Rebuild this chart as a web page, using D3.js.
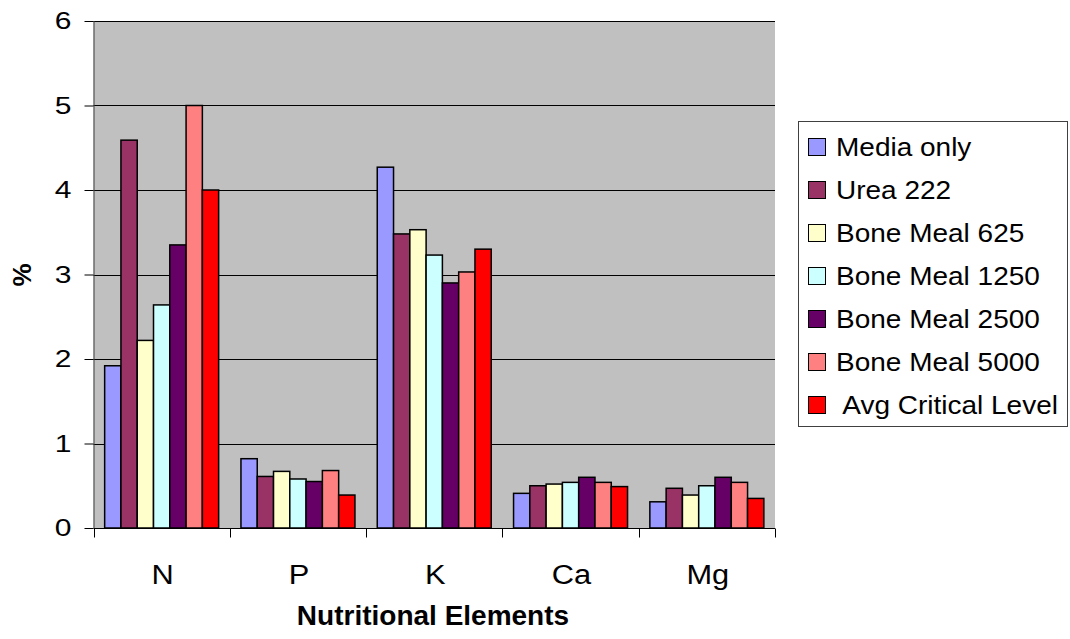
<!DOCTYPE html>
<html><head><meta charset="utf-8">
<script src="https://cdn.jsdelivr.net/npm/d3@7"></script>
<style>body{margin:0;background:#fff}svg{display:block}text{font-family:"Liberation Sans",Arial,sans-serif}</style>
</head><body><svg id="c" width="1070" height="639"></svg>
<script>
const categories = ["N","P","K","Ca","Mg"];
const seriesNames = ["Media only","Urea 222","Bone Meal 625","Bone Meal 1250","Bone Meal 2500","Bone Meal 5000"," Avg Critical Level"];
const mediaOnly   = [1.92,0.82,4.27,0.41,0.31];
const urea222     = [4.59,0.61,3.48,0.50,0.47];
const bm625       = [2.22,0.67,3.53,0.52,0.39];
const bm1250      = [2.64,0.58,3.23,0.54,0.50];
const bm2500      = [3.35,0.55,2.90,0.60,0.60];
const bm5000      = [5.00,0.68,3.03,0.54,0.54];
const avgCritical = [4.00,0.39,3.30,0.49,0.35];
const yTicks = [0,1,2,3,4,5,6];
const colors = ["#9999FF","#993366","#FFFFCC","#CCFFFF","#660066","#FF8080","#FF0000"];
const series = [mediaOnly,urea222,bm625,bm1250,bm2500,bm5000,avgCritical];

const svg = d3.select("#c");
const L=93.5, R=775, T=21, B=528;
const y = d3.scaleLinear().domain([0,6]).range([B,T]);
const x0 = d3.scaleBand().domain(categories).range([L,R]).paddingInner(0).paddingOuter(0);
const x1 = d3.scaleBand().domain(d3.range(series.length)).range([0,x0.bandwidth()]).paddingInner(0).paddingOuter(0.685);

svg.append("rect").attr("x",L).attr("y",T).attr("width",R-L).attr("height",B-T).attr("fill","#C0C0C0");
// gridlines
svg.append("g").selectAll("line").data(yTicks.filter(d=>d>0)).join("line")
  .attr("x1",L).attr("x2",R).attr("y1",d=>Math.round(y(d))+0.5).attr("y2",d=>Math.round(y(d))+0.5)
  .attr("stroke","#000").attr("stroke-width",1);

// bars
categories.forEach((c,ci)=>{
  series.forEach((s,si)=>{
    svg.append("rect").attr("x",x0(c)+x1(si)).attr("y",y(s[ci])).attr("width",x1.bandwidth()).attr("height",B-y(s[ci]))
      .attr("fill",colors[si]).attr("stroke","#000").attr("stroke-width",1.5);
  });
});

// y axis
const ya = svg.append("g").attr("transform",`translate(${L},0)`)
  .call(d3.axisLeft(y).tickValues(yTicks).tickSize(9).tickPadding(13).tickFormat(d3.format("d")));
ya.select(".domain").attr("stroke","#404040").attr("d",`M0.5,${T}V${B}`);
ya.selectAll(".tick line").attr("stroke","#000");
ya.selectAll("text").attr("font-size",24).attr("fill","#000").attr("font-family","Liberation Sans, Arial")
  .attr("x",0).attr("transform","translate(-22,0) scale(1.25,1)");

// x axis
const xa = svg.append("g").attr("transform",`translate(0,${B+0.5})`);
xa.append("line").attr("x1",L).attr("x2",R).attr("stroke","#000");
xa.selectAll("line.t").data(categories.map(c=>x0(c)).concat([R])).join("line").attr("class","t")
  .attr("x1",d=>Math.round(d)+0.5).attr("x2",d=>Math.round(d)+0.5).attr("y1",0).attr("y2",9).attr("stroke","#000");
xa.selectAll("text").data(categories).join("text")
  .attr("transform",d=>`translate(${x0(d)+x0.bandwidth()/2+1},55) scale(1.1,1)`).attr("text-anchor","middle")
  .attr("font-size",28).attr("fill","#000").text(d=>d);

// axis titles
svg.append("text").attr("x",433).attr("y",625).attr("text-anchor","middle").attr("font-size",28).attr("font-weight","bold").text("Nutritional Elements");
svg.append("text").attr("transform","translate(31,275) rotate(-90)").attr("text-anchor","middle").attr("font-size",26).attr("font-weight","bold").text("%");

// legend
const lg = svg.append("g");
lg.append("rect").attr("x",798.5).attr("y",121.5).attr("width",269).attr("height",305).attr("fill","#fff").attr("stroke","#404040");
seriesNames.forEach((n,i)=>{
  const cy = 147 + i*43;
  lg.append("rect").attr("x",808.5).attr("y",cy-8.5).attr("width",17).attr("height",17).attr("fill",colors[i]).attr("stroke","#000");
  lg.append("text").attr("transform",`translate(836,${cy+9}) scale(1.12,1)`).attr("font-size",25).attr("fill","#000").attr("xml:space","preserve").style("white-space","pre").text(n);
});
</script></body></html>
